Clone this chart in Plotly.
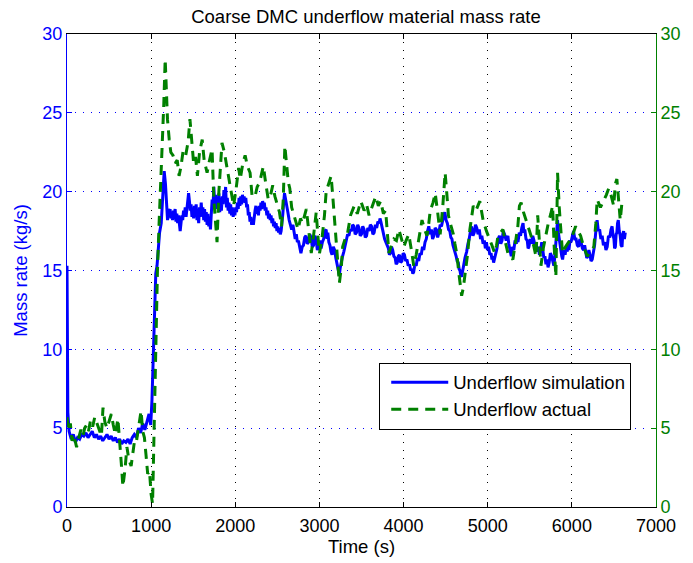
import plotly.graph_objects as go

# ---------------- simulation (blue) ----------------
sim_t_start = [0, 10, 25, 50, 75, 100, 125, 150, 175, 200,
               225, 250, 275, 300, 325, 350, 375, 400, 425, 450,
               475, 500, 525, 550, 575, 600, 625, 650, 675, 700,
               725, 750, 775, 800, 825, 850, 875, 900, 925, 950,
               975, 995, 1010, 1025, 1040, 1055, 1070, 1085, 1100, 1120,
               1140, 1155, 1170]
sim_v_start = [15.3, 6.0, 4.8, 4.3, 4.6, 4.1, 4.4, 4.3, 4.6, 4.5,
               4.7, 4.4, 4.6, 4.8, 4.4, 4.6, 4.3, 4.5, 4.2, 4.4,
               4.6, 4.3, 4.5, 4.2, 4.4, 4.1, 4.3, 4.0, 4.2, 4.1,
               4.3, 4.0, 4.4, 4.6, 4.4, 5.0, 4.7, 5.3, 4.9, 5.4,
               5.9, 5.2, 6.8, 9.5, 12.5, 14.8, 15.3, 16.5, 17.4, 18.0,
               19.8, 21.3, 20.5]

sim_t_high = [1185, 1195, 1205, 1215, 1225, 1235, 1245, 1255, 1265, 1275,
              1285, 1295, 1305, 1315, 1325, 1335, 1345, 1355, 1365, 1375,
              1385, 1395, 1405, 1415, 1425, 1435, 1445, 1455, 1465, 1475,
              1485, 1495, 1505, 1515, 1525, 1535, 1545, 1555, 1565, 1575,
              1585, 1595, 1605, 1615, 1625, 1635, 1645, 1655, 1665, 1675,
              1685, 1695, 1705, 1715, 1725, 1735, 1745, 1755, 1765, 1775,
              1785, 1795, 1805, 1815, 1825, 1835, 1845, 1855, 1865, 1875,
              1885, 1895, 1905, 1915, 1925, 1935, 1945, 1955, 1965, 1975,
              1985, 1995, 2005, 2015, 2025, 2035, 2045, 2055, 2065, 2075,
              2085, 2095, 2105, 2115, 2125, 2135, 2145, 2155, 2165, 2175,
              2185, 2195, 2205, 2215, 2225, 2235, 2245, 2255, 2265, 2275,
              2285, 2295, 2305, 2315, 2325, 2335, 2345, 2355, 2365, 2375,
              2385, 2395, 2405, 2415, 2425, 2435, 2445, 2455, 2465, 2475,
              2485, 2495, 2505, 2515, 2525, 2535, 2545, 2555, 2565, 2575,
              2585, 2595, 2605]
sim_v_high = [18.8, 18.2, 18.9, 18.4, 18.9, 18.3, 18.7, 18.2, 18.8, 18.5,
              18.9, 18.1, 18.6, 18.0, 18.5, 17.8, 17.5, 18.0, 18.5, 18.2,
              18.8, 18.5, 19.0, 18.4, 18.9, 19.3, 19.9, 19.4, 18.8, 19.2,
              18.4, 18.9, 18.3, 19.1, 18.6, 19.2, 18.2, 18.8, 18.0, 19.0,
              18.4, 19.3, 18.5, 19.0, 18.2, 18.9, 18.1, 18.7, 17.9, 18.6,
              17.8, 18.3, 17.6, 18.6, 19.5, 19.0, 20.3, 19.2, 19.8, 18.9,
              19.6, 19.1, 19.9, 18.7, 19.3, 18.8, 19.7, 19.2, 20.1, 19.4,
              20.3, 19.0, 19.6, 18.8, 19.3, 18.6, 19.2, 18.5, 19.0, 18.4,
              18.9, 18.5, 19.0, 18.7, 19.3, 18.9, 19.6, 19.1, 19.7, 19.2,
              19.8, 19.4, 19.7, 19.3, 19.6, 19.0, 19.2, 18.5, 18.7, 18.1,
              18.4, 17.9, 18.2, 17.9, 18.5, 18.8, 19.1, 18.6, 19.0, 18.5,
              19.1, 18.8, 19.3, 18.9, 19.4, 19.1, 19.3, 18.8, 19.0, 18.5,
              18.8, 18.3, 18.6, 18.2, 18.5, 18.0, 18.3, 17.8, 18.1, 17.7,
              18.0, 17.5, 17.8, 17.4, 17.7, 17.3, 17.5, 17.9, 18.6, 19.3,
              19.9, 19.6, 19.2]

sim_t_late = [2625, 2640, 2655, 2670, 2685, 2700, 2712, 2725, 2738, 2750,
              2765, 2780, 2795, 2810, 2825, 2840, 2855, 2870, 2885, 2900,
              2915, 2930, 2945, 2960, 2975, 2990, 3005, 3020, 3035, 3050,
              3065, 3080, 3090, 3100, 3112, 3125, 3137, 3150, 3165, 3180,
              3195, 3210, 3222, 3236, 3248, 3260, 3275, 3290, 3305, 3320,
              3335, 3350, 3365, 3380, 3395, 3410, 3425, 3440, 3455, 3470,
              3485, 3500, 3515, 3530, 3545, 3560, 3575, 3590, 3605, 3620,
              3635, 3650, 3665, 3680, 3695, 3710, 3720, 3730, 3745, 3760,
              3775, 3790, 3805, 3820, 3832, 3845, 3857, 3870, 3885, 3900,
              3912, 3925, 3937, 3950, 3965, 3980, 3995, 4010, 4025, 4040,
              4055, 4070, 4085, 4100, 4110, 4120, 4135, 4150, 4165, 4180,
              4195, 4210, 4225, 4240, 4255, 4270, 4285, 4300, 4315, 4330,
              4345, 4360, 4375, 4390, 4405, 4420, 4435, 4450, 4470, 4490,
              4505, 4520, 4535, 4550, 4562, 4575, 4587, 4600, 4612, 4625,
              4637, 4650, 4660, 4670, 4680, 4690, 4700, 4710, 4720, 4730,
              4740, 4750, 4765, 4780, 4795, 4808, 4825, 4840, 4855, 4870,
              4885, 4900, 4915, 4930, 4945, 4960, 4972, 4985, 4997, 5010,
              5025, 5040, 5050, 5060, 5070, 5080, 5095, 5110, 5125, 5140,
              5155, 5170, 5185, 5200, 5220, 5240, 5250, 5260, 5270, 5280,
              5295, 5310, 5325, 5340, 5350, 5360, 5375, 5390, 5405, 5420,
              5430, 5440, 5455, 5470, 5480, 5490, 5505, 5520, 5535, 5550,
              5562, 5575, 5587, 5600, 5615, 5630, 5642, 5655, 5667, 5680,
              5692, 5705, 5717, 5730, 5745, 5760, 5772, 5786, 5798, 5810,
              5820, 5830, 5840, 5850, 5860, 5870, 5880, 5890, 5905, 5920,
              5932, 5945, 5955, 5965, 5978, 5990, 6005, 6020, 6035, 6050,
              6065, 6080, 6095, 6110, 6125, 6140, 6152, 6165, 6177, 6190,
              6202, 6215, 6228, 6242, 6256, 6270, 6285, 6300, 6315, 6330,
              6345, 6360, 6375, 6390, 6405, 6420, 6435, 6450, 6465, 6478,
              6490, 6500, 6508, 6517, 6526, 6535, 6543, 6552, 6563, 6575,
              6585, 6596, 6605, 6615, 6625, 6635]
sim_v_late = [18.7, 18.2, 17.9, 17.6, 17.9, 17.4, 17.0, 17.3, 16.8, 16.9,
              16.4, 16.1, 16.5, 16.6, 17.1, 17.2, 16.7, 16.8, 17.3, 17.1,
              16.5, 16.6, 17.2, 17.0, 16.3, 16.5, 16.9, 16.4, 16.8, 17.0,
              17.5, 17.6, 17.0, 17.4, 16.8, 16.6, 16.2, 16.0, 16.5, 16.3,
              15.8, 15.4, 15.0, 14.7, 15.2, 15.6, 15.9, 16.2, 16.6, 16.8,
              17.3, 17.2, 17.6, 17.5, 17.9, 17.8, 17.3, 17.4, 17.9, 17.7,
              17.2, 17.3, 17.8, 17.6, 17.1, 17.2, 17.7, 17.5, 17.9, 17.8,
              17.3, 17.4, 17.9, 17.7, 18.1, 18.0, 18.3, 18.1, 17.7, 17.3,
              17.0, 16.8, 16.6, 16.4, 16.0, 16.1, 16.5, 16.3, 15.9, 15.8,
              15.4, 15.5, 15.9, 16.0, 15.5, 15.6, 16.1, 16.0, 15.6, 15.7,
              15.3, 15.4, 15.0, 15.1, 14.8, 14.9, 15.4, 15.3, 15.8, 15.6,
              16.1, 16.0, 16.5, 16.3, 16.8, 17.0, 17.5, 17.8, 17.3, 17.6,
              17.0, 17.2, 17.7, 17.6, 17.1, 17.4, 17.9, 17.8, 18.3, 18.7,
              18.2, 18.0, 17.6, 17.5, 17.1, 17.0, 16.6, 16.4, 16.1, 15.9,
              15.6, 15.5, 15.1, 15.0, 14.7, 14.6, 14.9, 15.3, 15.5, 15.8,
              16.0, 16.2, 16.7, 17.0, 17.5, 17.8, 17.2, 17.4, 17.9, 17.7,
              17.3, 17.6, 17.0, 17.2, 16.7, 16.9, 16.4, 16.8, 16.3, 16.5,
              16.0, 16.1, 15.7, 15.9, 15.5, 15.7, 16.0, 16.4, 17.0, 17.2,
              16.7, 16.9, 17.5, 17.3, 16.9, 17.2, 16.7, 16.4, 16.0, 15.9,
              16.5, 16.3, 16.9, 16.7, 17.1, 16.8, 17.4, 17.2, 17.7, 18.0,
              17.4, 17.6, 17.0, 16.9, 16.4, 16.5, 17.0, 16.7, 17.2, 16.9,
              16.4, 16.8, 16.2, 16.5, 16.0, 16.3, 16.8, 16.3, 15.8, 15.9,
              15.4, 15.7, 15.2, 15.5, 16.1, 15.9, 15.5, 15.3, 15.9, 16.6,
              17.5, 18.2, 17.4, 17.0, 16.5, 16.2, 15.9, 15.7, 16.3, 16.0,
              16.5, 16.2, 16.6, 16.3, 16.9, 16.8, 17.3, 17.5, 17.0, 17.0,
              16.6, 16.5, 17.0, 16.8, 16.4, 16.3, 16.6, 16.1, 15.8, 15.9,
              16.3, 16.0, 15.6, 15.7, 16.2, 16.6, 17.5, 18.2, 17.5, 17.6,
              17.0, 17.2, 16.6, 16.8, 16.3, 16.5, 17.2, 17.1, 17.6, 17.8,
              17.2, 17.0, 16.4, 16.5, 17.3, 17.4, 18.0, 18.2, 17.5, 17.2,
              16.6, 16.5, 17.3, 17.5, 17.0, 17.4]

# ---------------- actual (green, dashed) ----------------
act_t = [0, 20, 40, 60, 80, 100, 114, 140, 165, 190, 210, 232, 255, 280, 305, 330, 355, 380, 409, 428,
         450, 475, 500, 527, 550, 575, 605, 625, 645, 664, 690, 712, 735, 762, 785, 800, 821, 845, 860, 880,
         900, 920, 939, 959, 980, 1000, 1017, 1030, 1045, 1057, 1075, 1096, 1116, 1135, 1150, 1167, 1180, 1194,
         1215, 1234, 1260, 1285, 1310, 1332, 1355, 1380, 1411, 1440, 1461, 1480, 1505, 1528, 1550, 1575, 1607,
         1630, 1665, 1690, 1724, 1745, 1765, 1783, 1805, 1825, 1842, 1870, 1901, 1930, 1955, 1980, 2010, 2040,
         2059, 2090, 2117, 2145, 2176, 2200, 2235, 2260, 2290, 2333, 2360, 2392, 2420, 2445, 2471, 2500, 2525,
         2550, 2570, 2589, 2610, 2630, 2648, 2670, 2687, 2710, 2746, 2775, 2800, 2844, 2870, 2903, 2930, 2962,
         2980, 3001, 3030, 3060, 3080, 3110, 3139, 3160, 3178, 3205, 3237, 3260, 3276, 3305, 3335, 3370, 3414,
         3450, 3492, 3531, 3560, 3590, 3625, 3669, 3700, 3728, 3760, 3787, 3810, 3826, 3855, 3885, 3915, 3944,
         3975, 4003, 4030, 4062, 4090, 4121, 4150, 4180, 4219, 4250, 4278, 4300, 4317, 4350, 4376, 4405, 4435,
         4465, 4494, 4515, 4533, 4560, 4592, 4610, 4631, 4660, 4690, 4710, 4729, 4760, 4788, 4810, 4828, 4860,
         4906, 4925, 4945, 4985, 5024, 5050, 5083, 5105, 5122, 5150, 5181, 5210, 5240, 5270, 5299, 5330, 5358,
         5377, 5397, 5425, 5456, 5485, 5515, 5545, 5574, 5594, 5615, 5633, 5660, 5692, 5720, 5750, 5771, 5790,
         5810, 5820, 5830, 5850, 5870, 5889, 5925, 5967, 6000, 6045, 6075, 6104, 6140, 6183, 6220, 6261, 6285,
         6301, 6340, 6379, 6410, 6438, 6465, 6497, 6517, 6535, 6556, 6575, 6595]
act_v = [5.7, 4.8, 5.3, 4.2, 4.6, 4.0, 3.8, 4.4, 4.9, 4.5, 5.0, 5.2, 4.8, 5.5, 5.1, 5.7, 5.3, 4.9, 4.5, 6.3,
         5.4, 5.0, 5.5, 5.9, 5.2, 4.6, 5.6, 3.8, 2.8, 1.3, 2.4, 3.8, 3.0, 2.6, 3.5, 4.1, 4.0, 4.9, 5.6, 6.1,
         4.8, 4.4, 3.3, 2.1, 2.3, 0.8, 0.2, 4.0, 8.5, 11.9, 15.0, 18.2, 20.8, 22.5, 25.5, 28.4, 26.0, 24.6,
         23.3, 22.5, 22.3, 21.8, 22.0, 21.0, 21.6, 22.6, 22.3, 23.2, 24.6, 23.5, 21.8, 22.2, 21.0, 22.5, 23.3,
         22.0, 21.2, 21.9, 22.7, 19.5, 18.3, 16.8, 20.0, 22.0, 23.1, 22.5, 21.6, 20.6, 20.0, 19.1, 20.2, 21.5,
         20.8, 21.8, 22.3, 21.6, 21.2, 19.7, 19.7, 20.3, 20.6, 21.6, 20.6, 19.5, 19.8, 20.4, 19.7, 19.2, 18.7,
         17.8, 19.5, 22.9, 21.5, 20.6, 20.2, 19.0, 18.7, 18.2, 17.6, 18.3, 18.0, 18.9, 17.5, 16.1, 17.2, 18.7,
         17.3, 16.1, 17.0, 18.5, 20.0, 20.5, 21.0, 19.6, 18.2, 16.0, 14.2, 15.2, 16.5, 17.0, 17.4, 18.5, 19.1,
         18.6, 19.4, 18.8, 19.2, 18.5, 19.0, 19.7, 19.1, 19.4, 18.6, 18.8, 17.2, 16.1, 16.6, 17.0, 16.9, 17.6,
         17.0, 16.5, 16.9, 17.3, 16.4, 15.3, 16.0, 17.0, 18.2, 17.6, 17.2, 18.0, 18.8, 19.3, 19.9, 18.7, 17.3,
         19.0, 21.2, 19.8, 18.5, 17.9, 17.3, 16.7, 16.1, 14.7, 13.4, 13.9, 14.6, 16.0, 17.6, 18.5, 19.1, 18.8,
         19.4, 18.8, 18.2, 17.5, 17.0, 16.6, 16.1, 16.6, 17.2, 17.4, 17.6, 16.8, 16.1, 15.9, 15.7, 16.8, 17.8,
         19.1, 19.3, 18.7, 18.2, 17.7, 17.2, 16.6, 15.9, 18.5, 16.8, 15.3, 16.4, 17.3, 18.0, 18.6, 19.1, 16.5,
         14.6, 17.5, 21.2, 19.0, 17.3, 16.1, 16.5, 16.8, 17.1, 17.8, 17.5, 17.2, 16.5, 15.9, 16.2, 16.5, 18.0,
         19.5, 19.0, 19.4, 19.8, 20.2, 19.8, 19.1, 20.5, 20.8, 19.5, 18.2, 19.3]

x_ticks = [0, 1000, 2000, 3000, 4000, 5000, 6000, 7000]
y_ticks = [0, 5, 10, 15, 20, 25, 30]

sim_t = sim_t_start + sim_t_high + sim_t_late
sim_v = sim_v_start + sim_v_high + sim_v_late
assert len(sim_t) == len(sim_v), (len(sim_t), len(sim_v))
assert len(act_t) == len(act_v), (len(act_t), len(act_v))

BLUE = "#0000FF"
GREEN = "#008000"
FONT = "Liberation Sans, Arial, sans-serif"
FS = 18

fig = go.Figure()
fig.add_trace(go.Scatter(x=sim_t, y=sim_v, mode="lines", name="Underflow simulation",
                         line=dict(color=BLUE, width=3), yaxis="y"))
fig.add_trace(go.Scatter(x=act_t, y=act_v, mode="lines", name="Underflow actual",
                         line=dict(color=GREEN, width=3, dash="10px,7px"), yaxis="y2"))

fig.update_layout(
    width=693, height=563,
    margin=dict(l=67, r=28, t=34, b=56),
    paper_bgcolor="white", plot_bgcolor="white",
    font=dict(family=FONT, size=FS, color="black"),
    title=dict(text="Coarse DMC underflow material mass rate", x=(67 + 665) / 2 / 693, xanchor="center",
               y=1 - 17 / 563, yanchor="middle", font=dict(size=18.5, color="black")),
    xaxis=dict(range=[0, 7000], tickvals=x_ticks, ticks="inside", ticklen=5, tickcolor="black",
               showline=True, linecolor="black", linewidth=1, mirror="ticks",
               showgrid=True, gridcolor="black", griddash="1px,7px", gridwidth=1,
               zeroline=False, tickfont=dict(size=FS, color="black"), ticklabelstandoff=2,
               title=dict(text="Time (s)", standoff=0, font=dict(size=18.5, color="black"))),
    yaxis=dict(range=[0, 30], tickvals=y_ticks, ticks="inside", ticklen=5, tickcolor=BLUE,
               showline=True, linecolor=BLUE, linewidth=1,
               showgrid=True, gridcolor=BLUE, griddash="1px,7px", gridwidth=1,
               zeroline=False, tickfont=dict(size=FS, color=BLUE),
               title=dict(text="Mass rate (kg/s)", font=dict(color=BLUE, size=18.5), standoff=9)),
    yaxis2=dict(range=[0, 30], tickvals=y_ticks, ticks="inside", ticklen=5, tickcolor=GREEN,
                overlaying="y", side="right", showline=True, linecolor=GREEN, linewidth=1,
                showgrid=False, zeroline=False, tickfont=dict(size=FS, color=GREEN)),
    legend=dict(x=(384 - 67) / 598, y=(507 - 363) / 472, xanchor="left", yanchor="top",
                bgcolor="white", bordercolor="black", borderwidth=1,
                font=dict(size=18.5, color="black"), itemwidth=57, indentation=6,
                entrywidth=258, entrywidthmode="pixels",
                tracegroupgap=0),
    showlegend=True,
)

fig.write_html("out.html")
